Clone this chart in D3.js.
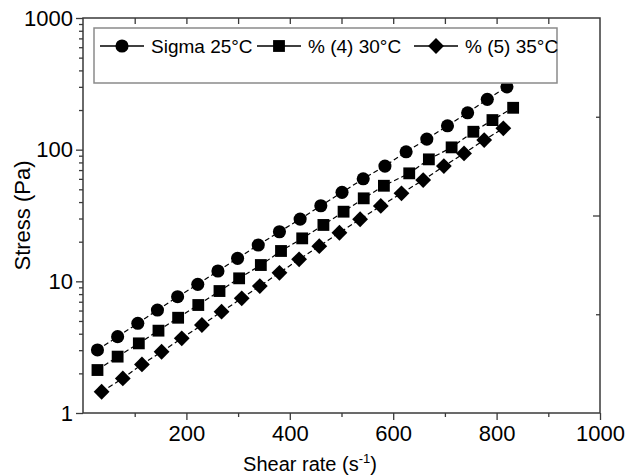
<!DOCTYPE html>
<html>
<head>
<meta charset="utf-8">
<script src="https://cdn.jsdelivr.net/npm/d3@7"></script>
<style>
  html, body { margin: 0; padding: 0; background: #fff; }
  svg { display: block; font-family: "Liberation Sans", Arial, sans-serif; }
</style>
</head>
<body>
<div id="chart"></div>
<script>
// shear rate (1/s) and stress (Pa)
var sigmaX = [28, 67, 106, 144, 183, 222, 261, 299, 339, 380, 420, 460, 501, 542, 584, 625, 665, 705, 744, 782, 820]
var sigmaY = [3.01, 3.80, 4.80, 6.05, 7.64, 9.49, 11.98, 14.95, 18.87, 23.8, 29.7, 37.5, 47.4, 60.1, 75.0, 96.4, 120.3, 151.8, 190.6, 241, 300]

var p4X = [28, 67, 108, 146, 184, 223, 264, 302, 344, 383, 424, 465, 504, 543, 582, 631, 669, 713, 755, 792, 832]
var p4Y = [2.12, 2.68, 3.38, 4.22, 5.29, 6.61, 8.44, 10.54, 13.3, 17.0, 21.2, 26.8, 33.8, 42.7, 53.2, 66.1, 84.4, 104.1, 136.8, 167.8, 208]

var p5X = [36, 77, 114, 152, 191, 230, 268, 307, 342, 380, 418, 457, 496, 536, 576, 616, 658, 698, 737, 776, 813]
var p5Y = [1.45, 1.83, 2.34, 2.92, 3.69, 4.66, 5.88, 7.43, 9.21, 11.6, 14.7, 18.5, 23.4, 29.6, 37.4, 46.6, 58.8, 75.0, 93.7, 118.3, 145.2]

var seriesNames = ['Sigma 25°C', '% (4) 30°C', '% (5) 35°C']
var xTickValues = [200, 400, 600, 800, 1000]
var yTickValues = [1, 10, 100, 1000]

var width = 627, height = 476
var plot = {left: 83, right: 600, top: 18, bottom: 413}
var frameColor = '#3a3a3a'

var svg = d3.select('#chart').append('svg')
    .attr('width', width)
    .attr('height', height)

var x = d3.scaleLinear().domain([0, 1000]).range([plot.left, plot.right])
var y = d3.scaleLog().domain([1, 1000]).range([plot.bottom, plot.top])
// the right-hand axis only carries evenly spaced ticks
var yRight = d3.scaleLinear().domain([0, 4]).range([plot.bottom, plot.top])

var symbols = [
    {type: d3.symbolCircle, size: 135, rotate: 0},
    {type: d3.symbolSquare, size: 140, rotate: 0},
    {type: d3.symbolSquare, size: 125, rotate: 45}
]

var series = [
    {xs: sigmaX, ys: sigmaY},
    {xs: p4X, ys: p4Y},
    {xs: p5X, ys: p5Y}
].map(function (s, i) {
    return {
        name: seriesNames[i],
        sym: symbols[i],
        points: s.xs.map(function (v, j) { return {x: v, y: s.ys[j]} })
    }
})

var minorY = []
;[1, 10, 100].forEach(function (d) {
    for (var k = 2; k <= 9; k++) minorY.push(d * k)
})

// ---- axes
var g = svg.append('g')

function styleAxis(sel) {
    sel.select('.domain').remove()
    sel.selectAll('line').attr('stroke', frameColor).attr('stroke-width', 1.3)
    sel.selectAll('text')
        .attr('fill', '#000')
        .style('font-size', '22px')
        .style('font-family', '"Liberation Sans", Arial, sans-serif')
}

g.append('g')
    .attr('transform', 'translate(0,' + plot.bottom + ')')
    .call(d3.axisBottom(x).tickValues(xTickValues).tickSize(7).tickPadding(5).tickFormat(d3.format('d')))
    .call(styleAxis)

g.append('g')
    .attr('transform', 'translate(0,' + plot.bottom + ')')
    .call(d3.axisBottom(x).tickValues([100, 300, 500, 700, 900]).tickSize(4).tickFormat(''))
    .call(styleAxis)

g.append('g')
    .attr('transform', 'translate(0,' + plot.top + ')')
    .call(d3.axisBottom(x).tickValues(d3.range(100, 1000, 100)).tickSize(6).tickFormat(''))
    .call(styleAxis)

g.append('g')
    .attr('transform', 'translate(' + plot.left + ',0)')
    .call(d3.axisLeft(y).tickValues(yTickValues).tickSize(7).tickPadding(3).tickFormat(d3.format('d')))
    .call(styleAxis)

g.append('g')
    .attr('transform', 'translate(' + plot.left + ',0)')
    .call(d3.axisLeft(y).tickValues(minorY).tickSize(4).tickFormat(''))
    .call(styleAxis)

g.append('g')
    .attr('transform', 'translate(' + plot.right + ',0)')
    .call(d3.axisLeft(yRight).tickValues([2]).tickSize(7).tickFormat(''))
    .call(styleAxis)

g.append('g')
    .attr('transform', 'translate(' + plot.right + ',0)')
    .call(d3.axisLeft(yRight).tickValues([1, 3]).tickSize(4).tickFormat(''))
    .call(styleAxis)

// frame
svg.append('rect')
    .attr('x', plot.left)
    .attr('y', plot.top)
    .attr('width', plot.right - plot.left)
    .attr('height', plot.bottom - plot.top)
    .attr('fill', 'none')
    .attr('stroke', frameColor)
    .attr('stroke-width', 1.5)

// axis titles
svg.append('text')
    .attr('transform', 'translate(30,' + ((plot.top + plot.bottom) / 2) + ') rotate(-90)')
    .attr('text-anchor', 'middle')
    .style('font-size', '22px')
    .text('Stress (Pa)')

var xt = svg.append('text')
    .attr('x', 310)
    .attr('y', 471)
    .attr('text-anchor', 'middle')
    .style('font-size', '20px')
xt.append('tspan').text('Shear rate (s')
xt.append('tspan').attr('dy', -8).style('font-size', '13px').text('-1')
xt.append('tspan').attr('dy', 8).text(')')

// ---- data
var line = d3.line()
    .x(function (d) { return x(d.x) })
    .y(function (d) { return y(d.y) })

var sg = svg.selectAll('.series')
    .data(series)
    .enter().append('g')
    .attr('class', 'series')

sg.append('path')
    .attr('d', function (d) { return line(d.points) })
    .attr('fill', 'none')
    .attr('stroke', '#000')
    .attr('stroke-width', 1.2)
    .attr('stroke-dasharray', '5,3')

sg.each(function (s) {
    d3.select(this).selectAll('path.pt')
        .data(s.points)
        .enter().append('path')
        .attr('class', 'pt')
        .attr('d', d3.symbol().type(s.sym.type).size(s.sym.size))
        .attr('transform', function (d) {
            return 'translate(' + x(d.x) + ',' + y(d.y) + ') rotate(' + s.sym.rotate + ')'
        })
        .attr('fill', '#000')
})

// ---- legend
var legend = svg.append('g')

legend.append('rect')
    .attr('x', 94)
    .attr('y', 28)
    .attr('width', 463)
    .attr('height', 55)
    .attr('fill', '#fff')
    .attr('stroke', '#8a8a8a')
    .attr('stroke-width', 1.5)

var legendX = [100, 257, 414]
var li = legend.selectAll('.item')
    .data(series)
    .enter().append('g')
    .attr('class', 'item')
    .attr('transform', function (d, i) { return 'translate(' + legendX[i] + ',46)' })

li.append('line')
    .attr('x1', 0).attr('x2', 44)
    .attr('stroke', '#000').attr('stroke-width', 1.3)

li.append('path')
    .attr('d', function (d) { return d3.symbol().type(d.sym.type).size(d.sym.size)() })
    .attr('transform', function (d) { return 'translate(22,0) rotate(' + d.sym.rotate + ')' })
    .attr('fill', '#000')

li.append('text')
    .attr('x', 51)
    .attr('y', 7)
    .style('font-size', '19px')
    .text(function (d) { return d.name })
</script>
</body>
</html>
